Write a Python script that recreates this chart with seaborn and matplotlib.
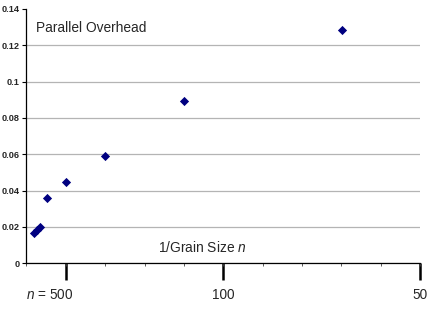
import matplotlib
matplotlib.use("Agg")
import matplotlib.pyplot as plt
from matplotlib.transforms import ScaledTranslation
import seaborn as sns
import pandas as pd
import numpy as np

# Data
inv_grain = [0.0004, 0.00055, 0.0007, 0.00103, 0.00201, 0.0040, 0.00802, 0.01605]
overhead = [0.0169, 0.0182, 0.0199, 0.0359, 0.0447, 0.0590, 0.0895, 0.1284]
y_ticks = [0, 0.02, 0.04, 0.06, 0.08, 0.1, 0.12, 0.14]
y_tick_labels = ["0", "0.02", "0.04", "0.06", "0.08", "0.1", "0.12", "0.14"]
n_tick_pos = [0.002, 0.01, 0.02]
n_tick_labels = ["$n$ = 500", "100", "50"]
title_text = "Parallel Overhead"
xlabel_text = "1/Grain Size $n$"

df = pd.DataFrame({"x": inv_grain, "y": overhead})

sns.set_theme(style="white")
plt.rcParams["font.family"] = ["Liberation Sans", "DejaVu Sans"]
plt.rcParams["mathtext.fontset"] = "custom"
plt.rcParams["mathtext.it"] = "Liberation Sans:italic"
plt.rcParams["mathtext.rm"] = "Liberation Sans"

fig = plt.figure(figsize=(4.3, 3.12), dpi=100)
ax = fig.add_axes([0.0616, 0.156, 0.9151, 0.8152])

sns.scatterplot(data=df, x="x", y="y", marker="D", s=22, color="#000080",
                linewidth=0, ax=ax, zorder=3)

ax.set_xlim(0, 0.02)
ax.set_ylim(0, 0.14)
ax.set_xlabel("")
ax.set_ylabel("")

ax.set_yticks(y_ticks)
ax.set_yticklabels(y_tick_labels, fontsize=6.6, fontweight="bold")
ax.set_xticks(np.arange(0, 0.02001, 0.002))
ax.set_xticklabels([])
ax.tick_params(axis="y", direction="out", length=3, width=0.8, color="black",
               pad=2, left=True)
ax.tick_params(axis="x", direction="out", length=2.5, width=0.6, color="#404040",
               bottom=True)

ax.yaxis.grid(True, color="#b4b4b4", linewidth=0.9)
ax.xaxis.grid(False)
ax.get_ygridlines()[-1].set_visible(False)
ax.set_axisbelow(True)

for s in ["top", "right"]:
    ax.spines[s].set_visible(False)
for s in ["left", "bottom"]:
    ax.spines[s].set_color("black")
    ax.spines[s].set_linewidth(0.9)

sec = ax.secondary_xaxis("bottom")
sec.set_xticks(n_tick_pos)
sec.set_xticklabels(n_tick_labels, fontsize=9.8)
sec.tick_params(axis="x", direction="out", length=12.5, width=1.8, color="black", pad=5)
sec.spines["bottom"].set_visible(False)
lbls = sec.get_xticklabels()
lbls[0].set_transform(lbls[0].get_transform() + ScaledTranslation(-16 / 100, 0, fig.dpi_scale_trans))

ax.text(0.0245, 0.925, title_text, transform=ax.transAxes, fontsize=9.9,
        ha="left", va="center")
ax.text(0.0067, 0.0065, xlabel_text, fontsize=9.9, ha="left", va="baseline")

fig.savefig("out.png", dpi=100)
